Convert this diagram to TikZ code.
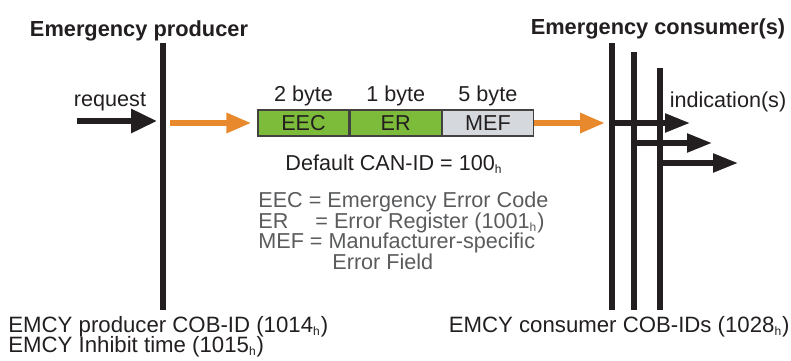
\documentclass[tikz,border=0pt]{standalone}
\usepackage{fontspec}
\setmainfont{Liberation Sans}
\usetikzlibrary{arrows.meta,positioning}
\definecolor{eorange}{HTML}{E8892E}
\definecolor{egreen}{HTML}{7DBB3A}
\definecolor{egrey}{HTML}{D5D9DD}
\definecolor{edark}{HTML}{231F20}
\definecolor{elegend}{HTML}{5A5B5D}
\newcommand{\hx}{\textsubscript{\fontsize{6}{6}\selectfont h}}
\tikzset{
  field/.style    = {draw=edark!85, line width=0.6pt, minimum height=13pt,
                     minimum width=45.5pt, inner sep=0pt, text=edark},
  busline/.style  = {line width=3.2pt, edark},
  reqarrow/.style = {-{Triangle[length=13pt,width=11.5pt]}, line width=3pt, edark},
  frame/.style    = {-{Triangle[length=12.5pt,width=9.5pt]}, line width=3pt, eorange},
  indarrow/.style = {-{Triangle[length=12.5pt,width=9pt]}, line width=2.6pt, edark},
  title/.style    = {font=\fontsize{10.9}{12}\selectfont\bfseries, text=edark, anchor=base},
  legend/.style   = {text=elegend, anchor=base west, inner sep=0pt},
  plain/.style    = {text=edark},
  odentry/.style  = {text=edark, inner sep=0pt, font=\fontsize{11.1}{12}\selectfont},
}
\begin{document}
\begin{tikzpicture}[x=0.5pt, y=-0.5pt, font=\fontsize{10.8}{11}\selectfont]
\useasboundingbox (0,0) rectangle (791,360);
% ---------------- titles ----------------
\node[title] (ptitle) at (139,36) {Emergency producer};
\node[title] (ctitle) at (658,34) {Emergency consumer(s)};
% ---------------- producer line ----------------
\coordinate (ptop) at (163,43);
\coordinate (pbot) at (163,310);
\draw[busline] (ptop) -- (pbot);
\coordinate (reqin) at (77,121);
\draw[reqarrow, shorten >=3pt] (reqin) -- (reqin -| ptop);
\node[plain, anchor=base] (req) at (110,106) {request};
% ---------------- EMCY frame ----------------
\node[field, fill=egreen] (eec) at (303.5,123) {EEC};
\node[field, fill=egreen, right=0pt of eec] (er) {ER};
\node[field, fill=egrey, right=0pt of er] (mef) {MEF};
\node[plain, above=-2pt of eec] (beec) {2 byte};
\node[plain, above=-2pt of er] (ber) {1 byte};
\node[plain, above=-2pt of mef] (bmef) {5 byte};
\coordinate (fin) at (170,123);
\draw[frame, shorten >=3pt] (fin) -- (eec.west);
\node[plain, anchor=base] (canid) at (394,170) {Default CAN-ID = 100\hx};
% legend
\node[legend] (leg1) at (258,207) {EEC = Emergency Error Code};
\node[legend] (leg2) at (258,228) {ER\hspace{1.25em}= Error Register (1001\hx)};
\node[legend] (leg3) at (258,248) {MEF = Manufacturer-specific};
\node[legend] (leg4) at (332,269) {Error Field};
% ---------------- consumer lines ----------------
\foreach \n/\x/\t in {1/612/43, 2/634/52, 3/660/68}{
  \coordinate (ctop\n) at (\x,\t);
  \coordinate (cbot\n) at (\x,310);
  \draw[busline] (ctop\n) -- (cbot\n);}
\draw[frame, shorten >=3.5pt] (mef.east) -- (mef.east -| ctop1);
\foreach \n/\y/\e in {1/123/690, 2/143/712, 3/163/738}{
  \coordinate (cout\n) at (\e,\y);
  \draw[indarrow] (ctop\n |- cout\n) -- (cout\n);}
\node[plain, anchor=base] (ind) at (728,107) {indication(s)};
% ---------------- object dictionary entries ----------------
\node[odentry, anchor=base west] (pcob) at (8,332) {EMCY producer COB-ID (1014\hx)};
\node[odentry, anchor=base west] (pinh) at (8,352) {EMCY Inhibit time (1015\hx)};
\node[odentry, anchor=base east] (ccob) at (790,332) {EMCY consumer COB-IDs (1028\hx)};
\end{tikzpicture}
\end{document}
